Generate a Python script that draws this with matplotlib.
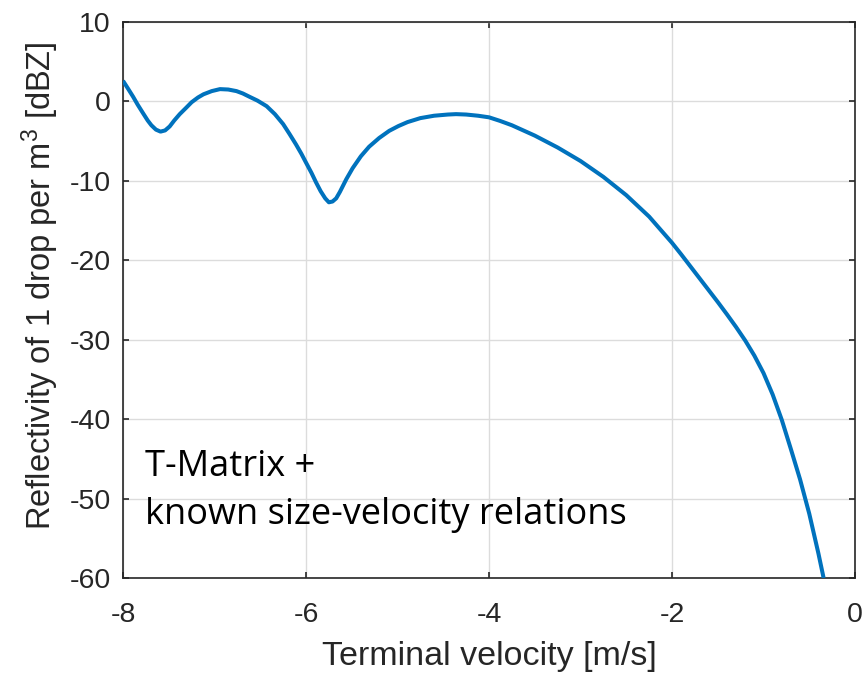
import matplotlib
matplotlib.use("Agg")
import matplotlib.pyplot as plt

# ---- data ----
velocity = [-8.00, -7.95, -7.89, -7.84, -7.78, -7.73, -7.69, -7.64, -7.59, -7.54,
            -7.49, -7.44, -7.38, -7.31, -7.25, -7.18, -7.12, -7.03, -6.94, -6.85,
            -6.76, -6.69, -6.62, -6.53, -6.43, -6.34, -6.25, -6.18, -6.11, -6.05,
            -6.00, -5.94, -5.89, -5.84, -5.79, -5.75, -5.71, -5.67, -5.63, -5.56,
            -5.49, -5.40, -5.31, -5.20, -5.09, -4.99, -4.89, -4.75, -4.60, -4.45,
            -4.36, -4.25, -4.12, -4.00, -3.88, -3.75, -3.50, -3.25, -3.00, -2.75,
            -2.50, -2.25, -2.00, -1.90, -1.80, -1.70, -1.60, -1.50, -1.40, -1.30,
            -1.20, -1.10, -1.00, -0.90, -0.80, -0.70, -0.60, -0.50, -0.40, -0.343]
reflectivity = [2.6, 1.7, 0.6, -0.4, -1.5, -2.4, -3.0, -3.55, -3.8, -3.65,
                -3.15, -2.4, -1.6, -0.8, -0.1, 0.5, 0.9, 1.3, 1.55, 1.5,
                1.3, 1.0, 0.6, 0.1, -0.6, -1.6, -2.85, -4.1, -5.4, -6.6,
                -7.7, -9.0, -10.2, -11.3, -12.2, -12.7, -12.6, -12.2, -11.4, -9.8,
                -8.4, -6.9, -5.7, -4.6, -3.7, -3.1, -2.6, -2.1, -1.8, -1.65,
                -1.6, -1.65, -1.8, -2.0, -2.45, -3.0, -4.3, -5.8, -7.5, -9.5,
                -11.8, -14.5, -17.8, -19.25, -20.75, -22.25, -23.75, -25.25, -26.8, -28.4,
                -30.1, -32.0, -34.2, -36.9, -40.1, -43.8, -47.6, -51.9, -56.9, -60.0]
xticks = [-8, -6, -4, -2, 0]
yticks = [10, 0, -10, -20, -30, -40, -50, -60]
annotation_lines = ["T-Matrix +", "known size-velocity relations"]

plt.rcParams['font.family'] = ['Liberation Sans', 'DejaVu Sans']
plt.rcParams['mathtext.fontset'] = 'custom'
plt.rcParams['mathtext.rm'] = 'Liberation Sans'
plt.rcParams['mathtext.it'] = 'Liberation Sans'

axcol = '#262626'
fig = plt.figure(figsize=(8.67, 6.76), dpi=100)
ax = fig.add_axes([123/867, 98/676, 732/867, 556/676])

ax.plot(velocity, reflectivity, color='#0072BD', lw=2.9,
        solid_joinstyle='round', solid_capstyle='butt', zorder=3)

ax.set_xlim(-8, 0)
ax.set_ylim(-60, 10)
ax.set_xticks(xticks)
ax.set_yticks(yticks)
ax.set_xticklabels([str(t) for t in xticks])
ax.set_yticklabels([str(t) for t in yticks])

ax.grid(True, color='#dcdcdc', lw=1.0)
ax.set_axisbelow(True)
for s in ax.spines.values():
    s.set_color(axcol)
    s.set_linewidth(1.2)
ax.tick_params(direction='in', length=4.5, width=1.2, color=axcol,
               labelcolor=axcol, labelsize=20.5, top=True, right=True)
ax.tick_params(axis='x', pad=17)
ax.tick_params(axis='y', pad=9)

ax.set_xlabel('Terminal velocity [m/s]', fontsize=24.5, color=axcol, labelpad=10)
ax.set_ylabel(r'Reflectivity of 1 drop per m$^{3}$ [dBZ]', fontsize=23.5,
              color=axcol)
ax.yaxis.set_label_coords(-0.085, 0.525)

ax.text(-7.76, -47.2, annotation_lines[0], fontsize=26, family='Open Sans',
        color='black', va='baseline', ha='left')
ax.text(-7.76, -53.25, annotation_lines[1], fontsize=26, family='Open Sans',
        color='black', va='baseline', ha='left')

fig.savefig('out.png', dpi=100)
